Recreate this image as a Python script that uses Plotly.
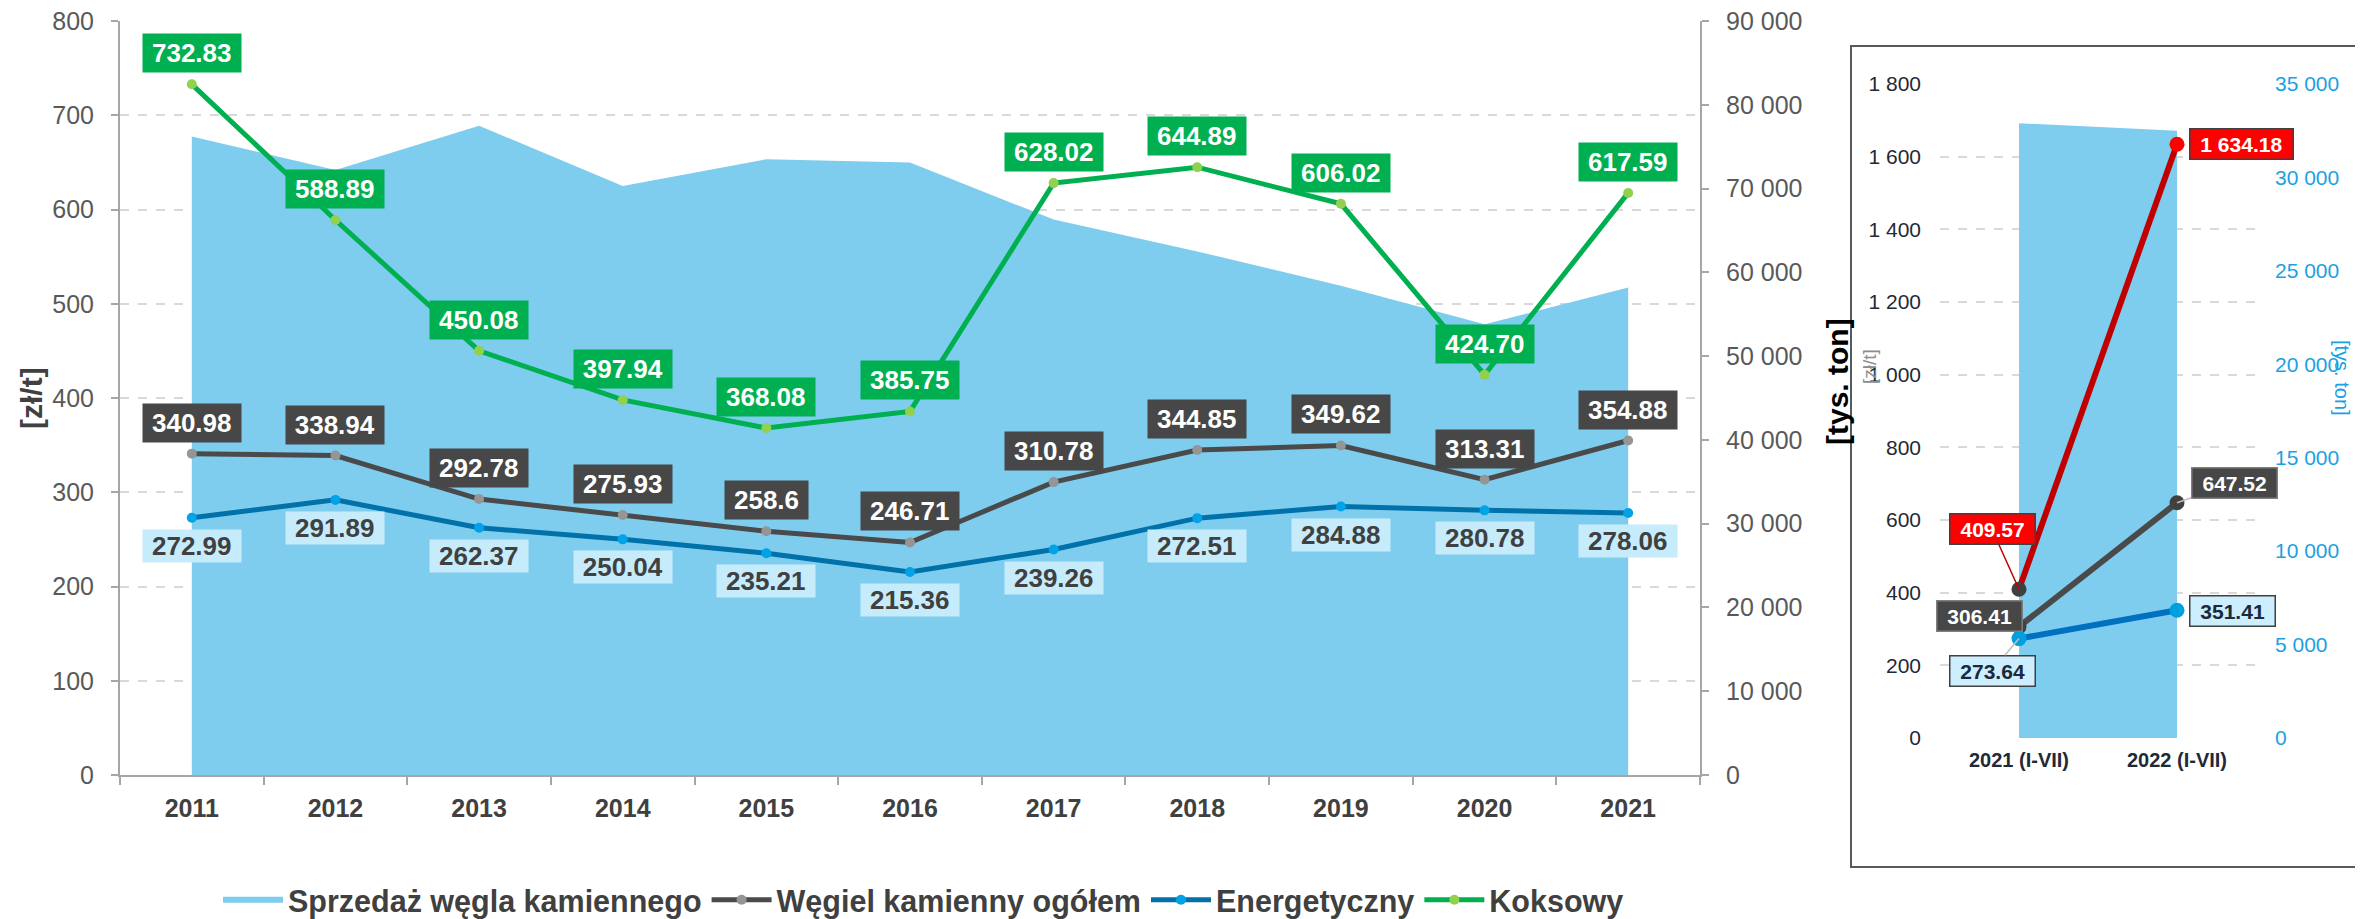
import plotly.graph_objects as go

# ---------------- data ----------------
years = ["2011", "2012", "2013", "2014", "2015", "2016", "2017", "2018", "2019", "2020", "2021"]
sales_kt = [76200, 72200, 77500, 70300, 73500, 73100, 66300, 62500, 58400, 53800, 58200]
ogolem = [340.98, 338.94, 292.78, 275.93, 258.6, 246.71, 310.78, 344.85, 349.62, 313.31, 354.88]
energ = [272.99, 291.89, 262.37, 250.04, 235.21, 215.36, 239.26, 272.51, 284.88, 280.78, 278.06]
koks = [732.83, 588.89, 450.08, 397.94, 368.08, 385.75, 628.02, 644.89, 606.02, 424.70, 617.59]

ogolem_lbl = ["340.98", "338.94", "292.78", "275.93", "258.6", "246.71", "310.78", "344.85", "349.62", "313.31", "354.88"]
energ_lbl = ["272.99", "291.89", "262.37", "250.04", "235.21", "215.36", "239.26", "272.51", "284.88", "280.78", "278.06"]
koks_lbl = ["732.83", "588.89", "450.08", "397.94", "368.08", "385.75", "628.02", "644.89", "606.02", "424.70", "617.59"]

inset_cats = ["2021 (I-VII)", "2022 (I-VII)"]
inset_sales_kt = [32900, 32500]
inset_ogolem = [306.41, 647.52]
inset_energ = [273.64, 351.41]
inset_koks = [409.57, 1634.18]

series_names = ["Sprzedaż węgla kamiennego", "Węgiel kamienny ogółem", "Energetyczny", "Koksowy"]

# ---------------- styling ----------------
W, H = 2363, 919
OFF = 8  # default page body margin
FONT = "Liberation Sans, Arial, sans-serif"
AREA = "#7FCDEE"
GREY_LINE = "#4A4A4A"
GREY_MK = "#959595"
BLUE_LINE = "#0071A9"
BLUE_MK = "#00A2E8"
GREEN_LINE = "#00B050"
GREEN_MK = "#92D050"
LBL_GREY = "#474747"
LBL_BLUE = "#C6ECFC"
LBL_GREEN = "#00B050"
AXIS = "#A6A6A6"
GRID = "#D9D9D9"
TICK = "#595959"


def px(xp):
    return (xp - OFF) / W


def py(yp):
    return 1 - (yp - OFF) / H


def text_w(s, size):
    w = 0
    for ch in s:
        w += 0.278 if ch in ". " else 0.556
    return w * size


fig = go.Figure()

# main area (base right axis)
fig.add_trace(go.Scatter(
    x=years, y=sales_kt, name=series_names[0], mode="none", fill="tozeroy",
    fillcolor=AREA, xaxis="x", yaxis="y", hoverinfo="skip"))
fig.add_trace(go.Scatter(
    x=years, y=ogolem, name=series_names[1], mode="lines+markers",
    line=dict(color=GREY_LINE, width=5), marker=dict(color=GREY_MK, size=10),
    xaxis="x", yaxis="y2"))
fig.add_trace(go.Scatter(
    x=years, y=energ, name=series_names[2], mode="lines+markers",
    line=dict(color=BLUE_LINE, width=5), marker=dict(color=BLUE_MK, size=10),
    xaxis="x", yaxis="y2"))
fig.add_trace(go.Scatter(
    x=years, y=koks, name=series_names[3], mode="lines+markers",
    line=dict(color=GREEN_LINE, width=5), marker=dict(color=GREEN_MK, size=10),
    xaxis="x", yaxis="y2"))

# inset
fig.add_trace(go.Scatter(
    x=inset_cats, y=inset_sales_kt, mode="none", fill="tozeroy", fillcolor=AREA,
    xaxis="x2", yaxis="y3", showlegend=False, hoverinfo="skip"))
fig.add_trace(go.Scatter(
    x=inset_cats, y=inset_ogolem, mode="lines+markers",
    line=dict(color=GREY_LINE, width=6), marker=dict(color="#404040", size=15),
    xaxis="x2", yaxis="y4", showlegend=False))
fig.add_trace(go.Scatter(
    x=inset_cats, y=inset_energ, mode="lines+markers",
    line=dict(color="#0070C0", width=6), marker=dict(color="#00A0E0", size=15),
    xaxis="x2", yaxis="y4", showlegend=False))
fig.add_trace(go.Scatter(
    x=inset_cats, y=inset_koks, mode="lines+markers",
    line=dict(color="#C00000", width=6), marker=dict(color=["#404040", "#FF0000"], size=15),
    xaxis="x2", yaxis="y4", showlegend=False))

annotations = []
LF = 26
for i in range(len(years)):
    annotations.append(dict(
        x=i, y=koks[i], xref="x", yref="y2", text=koks_lbl[i], showarrow=False,
        yshift=31, bgcolor=LBL_GREEN, borderpad=4, width=text_w(koks_lbl[i], LF) + 10,
        font=dict(family=FONT, size=LF, color="white", weight="bold")))
    annotations.append(dict(
        x=i, y=ogolem[i], xref="x", yref="y2", text=ogolem_lbl[i], showarrow=False,
        yshift=31, bgcolor=LBL_GREY, borderpad=4, width=text_w(ogolem_lbl[i], LF) + 10,
        font=dict(family=FONT, size=LF, color="white", weight="bold")))
    annotations.append(dict(
        x=i, y=energ[i], xref="x", yref="y2", text=energ_lbl[i], showarrow=False,
        yshift=-28, bgcolor=LBL_BLUE, borderpad=1, width=text_w(energ_lbl[i], LF) + 16,
        font=dict(family=FONT, size=LF, color="#404040", weight="bold")))

# inset labels
IF = 21
inset_lbls = [
    # text, cat, value, bg, fg, border, ax, ay, arrow, arrowcolor
    ("409.57", 0, inset_koks[0], "#FF0000", "white", "#404040", -27, -60, True, "#C00000"),
    ("1 634.18", 1, inset_koks[1], "#FF0000", "white", "#404040", 64, 0, False, None),
    ("306.41", 0, inset_ogolem[0], LBL_GREY, "white", "#7F7F7F", -40, -11, False, None),
    ("647.52", 1, inset_ogolem[1], LBL_GREY, "white", "#7F7F7F", 57, -20, True, "#BFBFBF"),
    ("273.64", 0, inset_energ[0], "#CCEEFF", "#1A2A3A", "#404040", -27, 32, True, "#BFBFBF"),
    ("351.41", 1, inset_energ[1], "#CCEEFF", "#1A2A3A", "#404040", 55, 1, False, None),
]
for t, ci, v, bg, fg, bc, ax, ay, arrow, ac in inset_lbls:
    d = dict(x=ci, y=v, xref="x2", yref="y4", text=t, bgcolor=bg,
             bordercolor=bc, borderwidth=1.5, borderpad=3, width=text_w(t, IF) + 14,
             font=dict(family=FONT, size=IF, color=fg, weight="bold"))
    if arrow:
        d.update(showarrow=True, arrowhead=0, arrowwidth=1.5, arrowcolor=ac,
                 ax=ax, ay=ay, axref="pixel", ayref="pixel")
    else:
        d.update(showarrow=False, xshift=ax, yshift=-ay)
    annotations.append(d)

# axis titles
title_common = dict(xref="paper", yref="paper", showarrow=False, xanchor="center", yanchor="middle")
annotations += [
    dict(x=px(31), y=py(398), text="[zł/t]", textangle=-90,
         font=dict(family=FONT, size=30, color="#404040", weight="bold"), **title_common),
    dict(x=px(1838), y=py(382), text="[tys. ton]", textangle=-90,
         font=dict(family=FONT, size=30, color="black", weight="bold"), **title_common),
    dict(x=px(1869), y=py(367), text="[zł/t]", textangle=-90,
         font=dict(family=FONT, size=19, color="#8C8C8C"), **title_common),
    dict(x=px(2342), y=py(378), text="[tys. ton]", textangle=90,
         font=dict(family=FONT, size=20, color="#1BA1E2"), **title_common),
]

main_x_dom = [px(120), px(1700)]
main_y_dom = [py(775), py(21)]
ins_x_dom = [px(1940), px(2256)]
ins_y_dom = [py(738), py(84)]

fig.update_layout(
    width=W, height=H, margin=dict(l=0, r=0, t=0, b=0, autoexpand=False),
    paper_bgcolor="white", plot_bgcolor="rgba(0,0,0,0)",
    separators=". ",
    font=dict(family=FONT, color="#404040"),
    showlegend=True,
    legend=dict(orientation="h", x=px(218), xanchor="left", y=py(900), yanchor="middle",
                font=dict(family=FONT, size=30.5, color="#404040", weight="bold"),
                bgcolor="rgba(0,0,0,0)", itemclick=False, itemwidth=60),
    xaxis=dict(domain=main_x_dom, anchor="y", type="category", range=[-0.5, 10.5],
               tickson="boundaries", ticks="outside", ticklen=8, tickcolor=AXIS, tickwidth=1.5,
               showline=True, linecolor=AXIS, linewidth=2, showgrid=False,
               tickfont=dict(family=FONT, size=25, color="#404040", weight="bold"),
               ticklabelstandoff=10),
    yaxis=dict(domain=main_y_dom, anchor="x", side="right", range=[0, 90000], dtick=10000,
               tickformat=",d", showgrid=False, zeroline=False, showline=True, linecolor=AXIS,
               linewidth=2, ticks="outside", ticklen=7, tickcolor=AXIS, tickwidth=1.5,
               tickfont=dict(family=FONT, size=25, color=TICK), ticklabelstandoff=12,
               ticklabeloverflow="allow"),
    yaxis2=dict(overlaying="y", anchor="x", side="left", range=[0, 800], dtick=100,
                showgrid=True, gridcolor=GRID, griddash="dash", gridwidth=1.5, zeroline=False,
                showline=True, linecolor=AXIS, linewidth=2, ticks="outside", ticklen=7,
                tickcolor=AXIS, tickwidth=1.5,
                tickfont=dict(family=FONT, size=25, color=TICK), ticklabelstandoff=12,
                ticklabeloverflow="allow"),
    xaxis2=dict(domain=ins_x_dom, anchor="y3", type="category", range=[-0.5, 1.5],
                showline=False, ticks="", showgrid=False,
                tickfont=dict(family=FONT, size=20, color="#1F2A36", weight="bold"),
                ticklabelstandoff=8),
    yaxis3=dict(domain=ins_y_dom, anchor="x2", side="right", range=[0, 35000], dtick=5000,
                tickformat=",d", showgrid=False, zeroline=False, showline=False, ticks="",
                tickfont=dict(family=FONT, size=21, color="#1BA1E2"), ticklabelstandoff=18,
                ticklabeloverflow="allow"),
    yaxis4=dict(overlaying="y3", anchor="x2", side="left", range=[0, 1800], dtick=200,
                tickformat=",d", showgrid=True, gridcolor=GRID, griddash="dash", gridwidth=1.5,
                zeroline=False, showline=False, ticks="",
                tickfont=dict(family=FONT, size=21, color="#1F2A36"), ticklabelstandoff=18,
                ticklabeloverflow="allow"),
    annotations=annotations,
    shapes=[dict(type="rect", xref="paper", yref="paper", x0=px(1851), x1=px(2358),
                 y0=py(867), y1=py(46), line=dict(color="#595959", width=2), layer="above")],
)

fig.write_html("out.html")
